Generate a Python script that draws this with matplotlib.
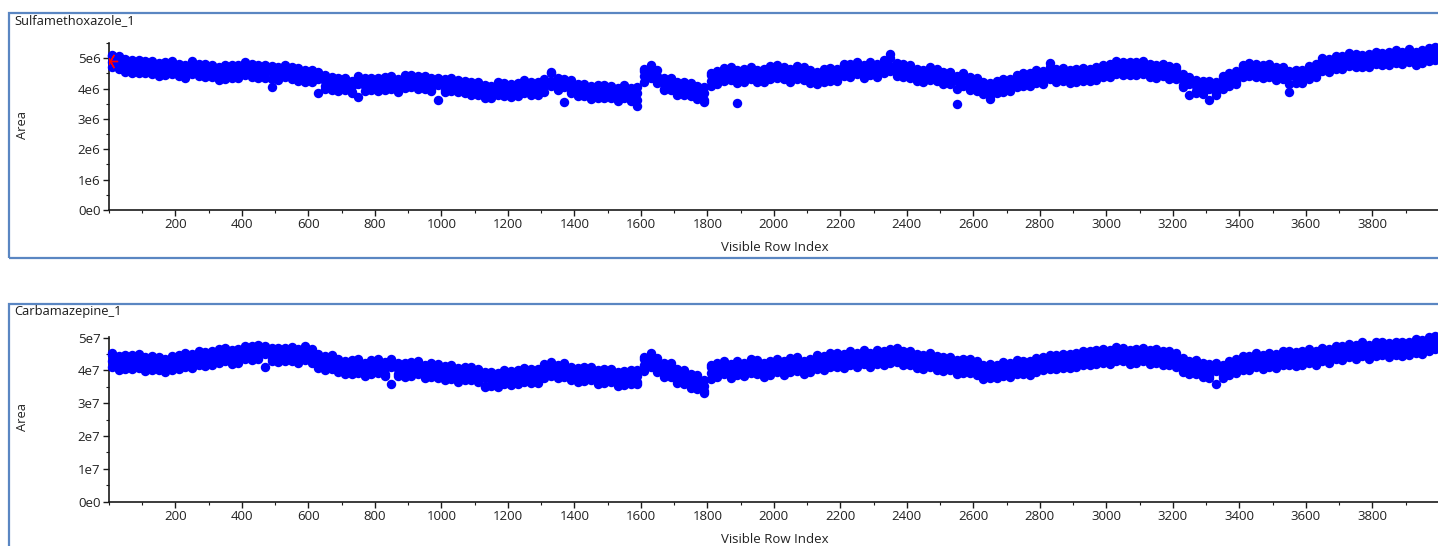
import matplotlib
matplotlib.use("Agg")
import matplotlib.pyplot as plt
from matplotlib.patches import Rectangle
from matplotlib.ticker import FixedLocator, MultipleLocator, FuncFormatter
import numpy as np

plt.rcParams['font.family'] = ['Open Sans', 'DejaVu Sans']

# Row index of each plotted column of points
rows = list(range(10, 4000, 20))

# Sulfamethoxazole_1 areas (units of 1e4): upper, middle, lower and scattered points per column
sulfa_hi = [506, 500, 496, 493, 489, 486, 490, 484, 481, 485, 482, 478, 484, 476, 480, 473, 470, 476, 478, 472,
            480, 474, 477, 470, 473, 470, 473, 466, 468, 462, 456, 448, 443, 438, 434, 430, 426, 433, 428, 436,
            434, 438, 436, 432, 438, 440, 436, 442, 434, 430, 432, 428, 423, 426, 420, 416, 413, 410, 414, 412,
            415, 418, 421, 416, 420, 426, 455, 436, 423, 428, 416, 410, 408, 412, 406, 404, 402, 406, 401, 404,
            458, 470, 460, 436, 430, 423, 416, 412, 408, 404, 443, 458, 462, 464, 460, 463, 466, 462, 464, 468,
            470, 466, 464, 468, 470, 460, 456, 458, 462, 466, 476, 480, 483, 478, 482, 480, 488, 515, 484, 480,
            470, 466, 462, 464, 460, 456, 450, 442, 446, 438, 428, 423, 418, 420, 426, 433, 440, 446, 450, 454,
            458, 485, 464, 462, 460, 458, 462, 466, 470, 473, 480, 484, 480, 486, 482, 484, 480, 478, 476, 473,
            466, 448, 433, 428, 424, 418, 422, 436, 446, 458, 473, 478, 480, 476, 474, 470, 466, 458, 454, 460,
            468, 480, 493, 498, 502, 506, 510, 508, 512, 514, 516, 518, 514, 520, 522, 524, 520, 526, 528, 530]
sulfa_mid = [488, 481, 478, 474, 470, 468, 472, 466, 463, 467, 464, 460, 466, 458, 462, 455, 452, 458, 460, 454,
             462, 456, 459, 452, 455, 452, 455, 448, 450, 444, 438, 430, 425, 420, 416, 412, 408, 415, 410, 418,
             416, 420, 418, 414, 420, 422, 418, 424, 416, 412, 414, 410, 405, 408, 402, 398, 395, 392, 396, 394,
             397, 400, 403, 398, 402, 408, 425, 418, 405, 410, 398, 392, 390, 394, 388, 386, 384, 388, 383, 386,
             440, 452, 442, 418, 412, 405, 398, 394, 390, 386, 425, 440, 444, 446, 442, 445, 448, 444, 446, 450,
             452, 448, 446, 450, 452, 442, 438, 440, 444, 448, 458, 462, 465, 460, 464, 462, 470, 475, 466, 462,
             452, 448, 444, 446, 442, 438, 432, 424, 428, 420, 410, 405, 400, 402, 408, 415, 422, 428, 432, 436,
             440, 448, 446, 444, 442, 440, 444, 448, 452, 455, 462, 466, 462, 468, 464, 466, 462, 460, 458, 455,
             448, 430, 415, 410, 406, 400, 404, 418, 428, 440, 455, 460, 462, 458, 456, 452, 448, 440, 436, 442,
             450, 462, 475, 480, 484, 488, 492, 490, 494, 496, 498, 500, 496, 502, 504, 506, 502, 508, 510, 512]
sulfa_lo = [470, 463, 460, 456, 452, 450, 454, 448, 445, 449, 446, 442, 448, 440, 444, 437, 434, 440, 442, 436,
            444, 438, 441, 434, 404, 434, 437, 430, 432, 426, 420, 386, 407, 402, 398, 394, 390, 372, 392, 400,
            398, 402, 400, 396, 402, 404, 400, 406, 398, 362, 396, 392, 387, 390, 384, 380, 377, 374, 378, 376,
            379, 382, 385, 380, 384, 390, 407, 400, 356, 392, 380, 374, 372, 376, 370, 368, 366, 370, 365, 342,
            422, 434, 424, 400, 394, 387, 380, 376, 372, 355, 407, 422, 426, 428, 352, 427, 430, 426, 428, 432,
            434, 430, 428, 432, 434, 424, 420, 422, 426, 430, 440, 444, 447, 442, 446, 444, 452, 457, 448, 444,
            434, 430, 426, 428, 424, 420, 414, 350, 410, 402, 392, 387, 366, 384, 390, 397, 404, 410, 414, 418,
            422, 430, 428, 426, 424, 422, 426, 430, 434, 437, 444, 448, 444, 450, 446, 448, 444, 442, 440, 437,
            430, 412, 380, 392, 388, 362, 386, 400, 410, 422, 437, 442, 444, 440, 438, 434, 430, 390, 418, 424,
            432, 444, 457, 462, 466, 470, 474, 472, 476, 478, 480, 482, 478, 484, 486, 488, 484, 490, 492, 494]
sulfa_sc = [512, 506, 455, 450, 494, 492, 448, 442, 489, 492, 440, 436, 490, 482, 438, 478, 428, 432, 436, 478,
            486, 480, 434, 476, 430, 428, 478, 472, 426, 420, 462, 454, 400, 396, 392, 436, 384, 440, 434, 394,
            392, 396, 442, 390, 444, 446, 442, 400, 392, 436, 390, 434, 428, 384, 378, 422, 370, 368, 420, 418,
            373, 376, 427, 422, 378, 432, 452, 394, 430, 386, 374, 416, 366, 370, 412, 410, 360, 412, 359, 362,
            466, 476, 418, 394, 436, 380, 422, 418, 366, 362, 450, 416, 468, 470, 418, 421, 472, 420, 422, 474,
            476, 472, 422, 474, 428, 418, 414, 464, 468, 424, 482, 438, 489, 436, 488, 438, 494, 499, 442, 438,
            476, 424, 420, 470, 466, 414, 456, 400, 452, 396, 434, 381, 376, 426, 432, 391, 446, 452, 408, 460,
            416, 472, 422, 468, 418, 464, 468, 424, 428, 479, 438, 490, 486, 444, 488, 490, 438, 436, 482, 431,
            472, 406, 439, 386, 382, 424, 380, 442, 452, 416, 479, 484, 438, 434, 480, 428, 472, 416, 460, 418,
            474, 438, 499, 456, 508, 464, 516, 514, 470, 472, 522, 476, 520, 526, 480, 530, 478, 484, 534, 536]

# Carbamazepine_1 areas (units of 1e5): upper, middle, lower and scattered points per column
carba_hi = [448, 444, 446, 442, 444, 440, 438, 442, 436, 438, 442, 446, 450, 454, 456, 458, 460, 464, 462, 466,
            470, 476, 472, 468, 470, 468, 470, 466, 464, 468, 458, 450, 444, 440, 436, 430, 426, 428, 424, 426,
            428, 426, 430, 424, 422, 420, 424, 418, 416, 420, 414, 410, 408, 412, 406, 400, 394, 390, 392, 396,
            398, 400, 402, 398, 404, 414, 420, 418, 416, 412, 408, 404, 406, 402, 404, 400, 396, 398, 394, 402,
            434, 446, 438, 422, 416, 404, 396, 388, 380, 370, 410, 422, 424, 420, 422, 424, 428, 426, 422, 428,
            430, 428, 432, 434, 430, 436, 440, 444, 448, 446, 450, 454, 452, 456, 454, 456, 460, 458, 462, 458,
            454, 450, 448, 446, 444, 440, 436, 432, 434, 428, 422, 416, 414, 418, 420, 422, 426, 424, 428, 432,
            436, 442, 446, 444, 450, 452, 454, 458, 456, 460, 462, 466, 464, 462, 466, 464, 462, 460, 458, 454,
            448, 438, 430, 426, 422, 420, 416, 418, 422, 428, 438, 444, 446, 448, 446, 450, 454, 452, 456, 454,
            458, 460, 464, 466, 470, 474, 476, 478, 480, 478, 480, 482, 484, 482, 486, 488, 490, 492, 496, 500]
carba_mid = [430, 426, 428, 424, 426, 422, 420, 424, 418, 420, 424, 428, 432, 436, 438, 440, 442, 446, 444, 448,
             452, 456, 454, 450, 452, 450, 452, 448, 446, 450, 440, 432, 426, 422, 418, 412, 408, 410, 406, 408,
             410, 408, 412, 406, 404, 402, 406, 400, 398, 402, 396, 392, 390, 394, 388, 382, 376, 372, 374, 378,
             380, 382, 384, 380, 386, 396, 402, 400, 398, 394, 390, 386, 388, 384, 386, 382, 378, 380, 376, 384,
             416, 428, 420, 404, 398, 386, 378, 370, 362, 352, 392, 404, 406, 402, 404, 406, 410, 408, 404, 410,
             412, 410, 414, 416, 412, 418, 422, 426, 430, 428, 432, 436, 434, 438, 436, 438, 442, 440, 444, 440,
             436, 432, 430, 428, 426, 422, 418, 414, 416, 410, 404, 398, 396, 400, 402, 404, 408, 406, 410, 414,
             418, 424, 428, 426, 432, 434, 436, 440, 438, 442, 444, 448, 446, 444, 448, 446, 444, 442, 440, 436,
             430, 420, 412, 408, 404, 402, 398, 400, 404, 410, 420, 426, 428, 430, 428, 432, 436, 434, 438, 436,
             440, 442, 446, 448, 452, 456, 458, 460, 462, 460, 462, 464, 466, 464, 468, 470, 472, 474, 478, 482]
carba_lo = [412, 408, 410, 406, 408, 404, 402, 406, 400, 402, 406, 410, 414, 418, 420, 422, 424, 428, 426, 430,
            434, 438, 436, 410, 434, 432, 434, 430, 428, 432, 422, 414, 408, 404, 400, 394, 390, 392, 388, 390,
            392, 390, 360, 388, 386, 384, 388, 382, 380, 384, 378, 374, 372, 376, 370, 364, 350, 354, 356, 360,
            362, 364, 366, 362, 368, 378, 384, 382, 380, 376, 372, 368, 370, 366, 368, 364, 360, 362, 358, 366,
            398, 410, 402, 386, 380, 368, 360, 352, 344, 332, 374, 386, 388, 384, 386, 388, 392, 390, 386, 392,
            394, 392, 396, 398, 394, 400, 404, 408, 412, 410, 414, 418, 416, 420, 418, 420, 424, 422, 426, 422,
            418, 414, 412, 410, 408, 404, 400, 396, 398, 392, 386, 380, 378, 382, 384, 386, 390, 388, 392, 396,
            400, 406, 410, 408, 414, 416, 418, 422, 420, 424, 426, 430, 428, 426, 430, 428, 426, 424, 422, 418,
            412, 402, 394, 390, 386, 384, 360, 382, 386, 392, 402, 408, 410, 412, 410, 414, 418, 416, 420, 418,
            422, 424, 428, 430, 434, 438, 440, 442, 444, 442, 444, 446, 448, 446, 450, 452, 454, 456, 460, 464]
carba_sc = [454, 402, 404, 448, 450, 398, 444, 400, 394, 444, 448, 452, 408, 460, 414, 416, 466, 470, 420, 424,
            476, 432, 478, 474, 428, 426, 428, 472, 422, 474, 464, 408, 402, 446, 394, 388, 432, 434, 382, 432,
            434, 384, 436, 382, 380, 426, 430, 376, 422, 378, 372, 416, 366, 370, 412, 406, 352, 396, 350, 402,
            356, 358, 408, 404, 362, 420, 426, 376, 422, 370, 366, 410, 412, 360, 362, 406, 354, 356, 400, 360,
            440, 452, 396, 380, 422, 362, 402, 346, 386, 336, 416, 380, 430, 378, 428, 382, 434, 432, 380, 386,
            436, 386, 438, 440, 388, 394, 446, 402, 454, 452, 408, 460, 410, 462, 412, 462, 418, 464, 468, 416,
            460, 408, 406, 452, 402, 398, 442, 390, 392, 434, 428, 374, 420, 376, 426, 380, 432, 430, 386, 438,
            442, 448, 404, 450, 408, 410, 460, 416, 462, 466, 420, 472, 470, 420, 424, 470, 420, 466, 416, 460,
            454, 396, 388, 432, 380, 378, 422, 376, 428, 434, 444, 402, 452, 406, 452, 408, 460, 458, 414, 460,
            464, 418, 470, 424, 476, 432, 482, 436, 486, 436, 486, 488, 442, 488, 444, 446, 496, 450, 502, 506]

# Highlighted (selected) point in the first chart
sel_row = 4
sel_value = 4.92e6

panels = [
    dict(title="Sulfamethoxazole_1", series=(sulfa_sc, sulfa_hi, sulfa_mid, sulfa_lo), unit=1e4,
         exp=6, ymax=5.5e6, ypix=(210, 43), box=(13, 258)),
    dict(title="Carbamazepine_1", series=(carba_sc, carba_hi, carba_mid, carba_lo), unit=1e5,
         exp=7, ymax=5.03e7, ypix=(501.7, 336.7), box=(304, 600)),
]

W, H = 1438, 546
fig = plt.figure(figsize=(W / 100, H / 100), dpi=100)
border = '#5a86c2'
x0_px = 108.8

for i, p in enumerate(panels):
    yb, yt = p['ypix']
    ax = fig.add_axes([x0_px / W, 1 - yb / H, 1 - x0_px / W + 0.01, (yb - yt) / H])
    b0, b1 = p['box']
    fig.add_artist(Rectangle((9 / W, 1 - b1 / H), 2.0, (b1 - b0) / H, transform=fig.transFigure,
                             fill=False, edgecolor=border, linewidth=1.6, clip_on=False))
    fig.text(14 / W, 1 - (b0 + 7.5) / H, p['title'], fontsize=9.3, color='#1a1a1a', va='center', ha='left')
    for s in p['series']:
        ax.plot(rows, np.array(s) * p['unit'], linestyle='none', marker='o', ms=6.8,
                mew=0, color='#0000ff', clip_on=False, zorder=3)
    if i == 0:
        ax.plot([sel_row], [sel_value], linestyle='none', marker=(6, 2, 90), ms=11, mew=1.0,
                color='red', zorder=4)
    ax.set_xlim(0, (W - x0_px + 0.01 * W) / 0.3325)
    ax.set_ylim(0, p['ymax'])
    for sp in ['top', 'right']:
        ax.spines[sp].set_visible(False)
    for sp in ['left', 'bottom']:
        ax.spines[sp].set_linewidth(1.2)
        ax.spines[sp].set_color('#1a1a1a')
    ax.xaxis.set_major_locator(FixedLocator(list(range(200, 4000, 200))))
    ax.xaxis.set_minor_locator(MultipleLocator(100))
    step = 10 ** p['exp']
    ax.yaxis.set_major_locator(FixedLocator([k * step for k in range(0, 6)]))
    ax.yaxis.set_minor_locator(MultipleLocator(step / 2))
    e = p['exp']
    ax.yaxis.set_major_formatter(FuncFormatter(lambda v, pos, e=e: "0e0" if v == 0 else f"{v / 10 ** e:.0f}e{e}"))
    ax.tick_params(which='major', length=4, width=1.0, color='#1a1a1a', labelsize=9.5, labelcolor='#222222', pad=2)
    ax.tick_params(which='minor', length=2.5, width=0.8, color='#1a1a1a')
    ax.set_facecolor('none')
    fig.text(775 / W, 1 - (yb + 38) / H, "Visible Row Index", fontsize=9.5, color='#222222',
             ha='center', va='center')
    fig.text(22 / W, 1 - (yb - 85) / H, "Area", fontsize=9.3, color='#222222', rotation=90,
             ha='center', va='center')

fig.savefig("out.png", dpi=100)
